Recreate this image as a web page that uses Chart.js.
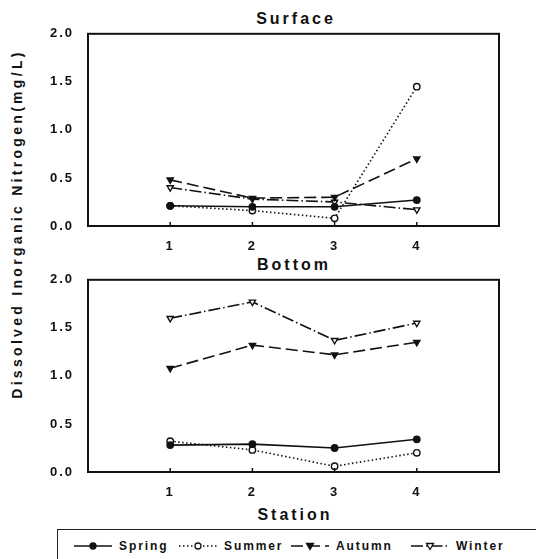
<!DOCTYPE html>
<html>
<head>
<meta charset="utf-8">
<script src="https://cdn.jsdelivr.net/npm/chart.js@4"></script>
<style>
  body { margin: 0; background: #fff; width: 536px; height: 559px; overflow: hidden; position: relative;
         font-family: "Liberation Sans", Arial, sans-serif; font-weight: bold; color: #111; }
  .box { position: absolute; }
  .lbl { position: absolute; white-space: nowrap; transform: translate(-50%, -50%); }
  #ytitle { position: absolute; left: 17px; top: 224px; transform: translate(-50%, -50%) rotate(-90deg);
            font-size: 14px; letter-spacing: 3.3px; white-space: nowrap; }
  #legend { position: absolute; left: 57px; top: 529px; width: 500px; height: 40px; border: 1.5px solid #222;
            box-sizing: border-box; font-size: 12px; letter-spacing: 1.9px; }
  #legend .item { position: absolute; top: 9px; display: flex; align-items: center; }
  #legend canvas { margin-right: 7px; }
</style>
</head>
<body>
<div class="lbl" style="left:296px;top:19px;font-size:16px;letter-spacing:3px;">Surface</div>
<div class="lbl" style="left:294px;top:265px;font-size:16px;letter-spacing:3px;">Bottom</div>
<div class="lbl" style="left:295px;top:515px;font-size:16px;letter-spacing:3px;">Station</div>
<div id="ytitle">Dissolved Inorganic Nitrogen(mg/L)</div>
<div class="box" style="left:40px;top:20px;width:470px;height:236px;"><canvas id="surface"></canvas></div>
<div class="box" style="left:40px;top:266px;width:470px;height:236px;"><canvas id="bottom"></canvas></div>
<div id="legend"></div>
<script>
const stations = [1, 2, 3, 4];
const seasons = ["Spring", "Summer", "Autumn", "Winter"];

// Surface
const surfaceSpring = [0.21, 0.20, 0.20, 0.27];
const surfaceSummer = [0.21, 0.16, 0.08, 1.45];
const surfaceAutumn = [0.48, 0.29, 0.30, 0.70];
const surfaceWinter = [0.40, 0.28, 0.25, 0.17];

// Bottom
const bottomSpring = [0.28, 0.29, 0.25, 0.34];
const bottomSummer = [0.32, 0.23, 0.06, 0.20];
const bottomAutumn = [1.08, 1.32, 1.22, 1.35];
const bottomWinter = [1.60, 1.77, 1.37, 1.55];

const yTicks = [0, 0.5, 1.0, 1.5, 2.0];

const seasonStyle = {
    Spring: { dash: [], point: "circle", fill: "#111", rotation: 0, r: 3.2 },
    Summer: { dash: [1.5, 2.5], point: "circle", fill: "#fff", rotation: 0, r: 3.2 },
    Autumn: { dash: [12, 5], point: "triangle", fill: "#111", rotation: 180, r: 3.6 },
    Winter: { dash: [12, 3, 1.5, 3], point: "triangle", fill: "#fff", rotation: 180, r: 3.6 }
};

const makeDatasets = (series) => {
    return seasons.map((name, i) => {
        const s = seasonStyle[name];
        return {
            label: name,
            data: stations.map((st, j) => ({ x: st, y: series[i][j] })),
            borderColor: "#111",
            borderWidth: 1.6,
            borderDash: s.dash,
            pointStyle: s.point,
            pointRotation: s.rotation,
            pointRadius: s.r,
            pointBorderWidth: 1.4,
            pointBackgroundColor: s.fill,
            pointBorderColor: "#111",
            tension: 0
        };
    });
};

// box round the plot area, small inward ticks at each station
const framePlugin = {
    id: "frame",
    beforeDraw(chart) {
        chart.ctx.letterSpacing = "2px";
    },
    afterDatasetsDraw(chart) {
        const ctx = chart.ctx;
        const a = chart.chartArea;
        const xs = chart.scales.x;
        ctx.save();
        ctx.strokeStyle = "#111";
        ctx.lineWidth = 2;
        ctx.setLineDash([]);
        ctx.strokeRect(a.left, a.top, a.right - a.left, a.bottom - a.top);
        ctx.lineWidth = 1.5;
        stations.forEach(v => {
            const px = xs.getPixelForValue(v);
            ctx.beginPath();
            ctx.moveTo(px, a.bottom);
            ctx.lineTo(px, a.bottom - 4);
            ctx.stroke();
        });
        ctx.restore();
    }
};

const tickFont = { family: "'Liberation Sans', Arial, sans-serif", size: 13, weight: "bold" };

const makeChart = (id, series) => {
    const ctx = document.getElementById(id).getContext("2d");
    ctx.letterSpacing = "2px";
    return new Chart(ctx, {
        type: "line",
        data: { datasets: makeDatasets(series) },
        options: {
            responsive: true,
            maintainAspectRatio: false,
            animation: false,
            events: [],
            layout: { padding: { top: 11, right: 11, left: 0, bottom: 0 } },
            plugins: { legend: { display: false }, tooltip: { enabled: false } },
            scales: {
                x: {
                    type: "linear",
                    min: 0,
                    max: 5,
                    afterBuildTicks: (scale) => {
                        scale.ticks = stations.map(v => ({ value: v }));
                    },
                    afterFit: (scale) => { scale.height = 30; },
                    grid: { display: false },
                    border: { display: false },
                    ticks: { color: "#111", font: tickFont, padding: 5, maxRotation: 0 }
                },
                y: {
                    min: 0,
                    max: 2,
                    afterBuildTicks: (scale) => {
                        scale.ticks = yTicks.map(v => ({ value: v }));
                    },
                    afterFit: (scale) => { scale.width = 48; },
                    grid: { display: false },
                    border: { display: false },
                    ticks: { color: "#111", font: tickFont, padding: 6, callback: (v) => Number(v).toFixed(1) }
                }
            }
        },
        plugins: [framePlugin]
    });
};

makeChart("surface", [surfaceSpring, surfaceSummer, surfaceAutumn, surfaceWinter]);
makeChart("bottom", [bottomSpring, bottomSummer, bottomAutumn, bottomWinter]);

// legend
const legend = document.getElementById("legend");
const legendX = [16, 121, 233, 353];
seasons.forEach((name, i) => {
    const s = seasonStyle[name];
    const item = document.createElement("div");
    item.className = "item";
    item.style.left = legendX[i] + "px";
    const c = document.createElement("canvas");
    c.width = 38;
    c.height = 12;
    const g = c.getContext("2d");
    g.strokeStyle = "#111";
    g.lineWidth = 1.5;
    g.setLineDash(s.dash);
    g.beginPath();
    g.moveTo(0, 6);
    g.lineTo(38, 6);
    g.stroke();
    g.setLineDash([]);
    g.fillStyle = s.fill;
    g.lineWidth = 1.3;
    g.beginPath();
    if (s.point === "circle") {
        g.arc(19, 6, 3, 0, Math.PI * 2);
    } else {
        g.moveTo(15.5, 3.5);
        g.lineTo(22.5, 3.5);
        g.lineTo(19, 9.5);
        g.closePath();
    }
    g.fill();
    g.stroke();
    const t = document.createElement("span");
    t.textContent = name;
    item.appendChild(c);
    item.appendChild(t);
    legend.appendChild(item);
});
</script>
</body>
</html>
